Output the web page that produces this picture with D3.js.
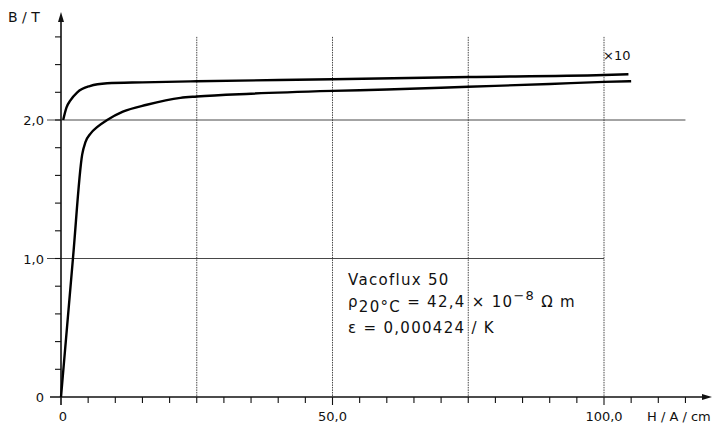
<!DOCTYPE html>
<html><head><meta charset="utf-8">
<script src="https://cdn.jsdelivr.net/npm/d3@7"></script>
<style>body{margin:0;background:#fff}svg{display:block}text{font-family:"DejaVu Sans",sans-serif;fill:#111}</style>
</head><body><svg id="c" width="714" height="439"></svg>
<script>
// Real curve (lower)
const lowerH = [0, 2.2, 3.9, 4.5, 5.4, 6.7, 8.5, 11.4, 15.8, 22, 25, 35, 50, 60, 75, 90, 100, 105];
const lowerB = [0, 1.0, 1.75, 1.84, 1.9, 1.95, 2.0, 2.06, 2.11, 2.16, 2.17, 2.19, 2.21, 2.22, 2.24, 2.26, 2.275, 2.28];
// ×10 curve (upper)
const upperH = [0.4, 1.0, 1.7, 3, 5.3, 8.5, 15, 25, 50, 75, 100, 104.5];
const upperB = [2.0, 2.09, 2.14, 2.2, 2.245, 2.265, 2.272, 2.28, 2.294, 2.31, 2.325, 2.33];
const xTickLabels = [[0, "0"], [50, "50,0"], [100, "100,0"]];
const yTickLabels = [[0, "0"], [1, "1,0"], [2, "2,0"]];
const xGrid = [25, 50, 75, 100];

const svg = d3.select("#c");
const x = d3.scaleLinear().domain([0, 100]).range([61, 604]);
const y = d3.scaleLinear().domain([0, 2]).range([397, 120]);

const g = svg.append("g");
const gridStyle = s => s.attr("stroke", "#333").attr("stroke-width", 0.9).attr("stroke-dasharray", "1.5,1");

// vertical grid
xGrid.forEach(v => {
  g.append("line").attr("x1", x(v)).attr("x2", x(v)).attr("y1", y(2.6)).attr("y2", y(0)).call(gridStyle);
});
// horizontal grid
g.append("line").attr("x1", 47).attr("x2", x(100)).attr("y1", y(1)).attr("y2", y(1)).call(gridStyle).attr("stroke-dasharray", null);
g.append("line").attr("x1", 47).attr("x2", x(115)).attr("y1", y(2)).attr("y2", y(2)).call(gridStyle).attr("stroke-dasharray", null);

// axes
g.append("line").attr("x1", 50).attr("x2", 706).attr("y1", y(0)).attr("y2", y(0)).attr("stroke", "#111").attr("stroke-width", 1.6);
g.append("path").attr("d", `M712,${y(0)} L702,${y(0)-3} L702,${y(0)+3} Z`).attr("fill", "#111");
g.append("line").attr("x1", x(0)).attr("x2", x(0)).attr("y1", y(0) + 8).attr("y2", 18).attr("stroke", "#111").attr("stroke-width", 1.6);
g.append("path").attr("d", `M${x(0)},12 L${x(0)-3},22 L${x(0)+3},22 Z`).attr("fill", "#111");

// x ticks
d3.range(5, 120, 5).forEach(v => {
  g.append("line").attr("x1", x(v)).attr("x2", x(v)).attr("y1", y(0)).attr("y2", y(0) + (v % 50 === 0 ? 8 : 6)).attr("stroke", "#111").attr("stroke-width", 1.1);
});
// y ticks
d3.range(1, 14).forEach(i => {
  const v = i * 0.2;
  g.append("line").attr("x1", x(0) - 6).attr("x2", x(0)).attr("y1", y(v)).attr("y2", y(v)).attr("stroke", "#111").attr("stroke-width", 1.1);
});

// labels
xTickLabels.forEach(([v, t]) => {
  g.append("text").attr("x", x(v) + (v === 0 ? 2 : 0)).attr("y", 421).attr("text-anchor", "middle").attr("font-size", 13).text(t);
});
yTickLabels.forEach(([v, t]) => {
  g.append("text").attr("x", 44).attr("y", y(v) + 5).attr("text-anchor", "end").attr("font-size", 13).text(t);
});
g.append("text").attr("x", 647).attr("y", 421).attr("font-size", 13).text("H / A / cm");
g.append("text").attr("x", 8).attr("y", 22).attr("font-size", 14).text("B / T");
g.append("text").attr("x", 603).attr("y", 60).attr("font-size", 13).text("×10");

// legend
const lg = g.append("g").attr("font-size", 15).attr("letter-spacing", 1.3);
lg.append("text").attr("x", 348).attr("y", 285).text("Vacoflux 50");
const t2 = lg.append("text").attr("x", 348).attr("y", 307);
t2.append("tspan").text("ρ");
t2.append("tspan").attr("dy", 5).text("20°C");
t2.append("tspan").attr("dy", -5).text(" = 42,4 × 10");
t2.append("tspan").attr("dy", -7).attr("font-size", 13).text("−8");
t2.append("tspan").attr("dy", 7).text(" Ω m");
lg.append("text").attr("x", 348).attr("y", 333).text("ε = 0,000424 / K");

// curves
const line = d3.line().x(d => x(d[0])).y(d => y(d[1])).curve(d3.curveMonotoneX);
const lower = lowerH.map((h, i) => [h, lowerB[i]]);
const upper = upperH.map((h, i) => [h, upperB[i]]);
g.append("path").attr("d", line(lower)).attr("fill", "none").attr("stroke", "#000").attr("stroke-width", 2.4);
g.append("path").attr("d", line(upper)).attr("fill", "none").attr("stroke", "#000").attr("stroke-width", 2.4);
</script></body></html>
